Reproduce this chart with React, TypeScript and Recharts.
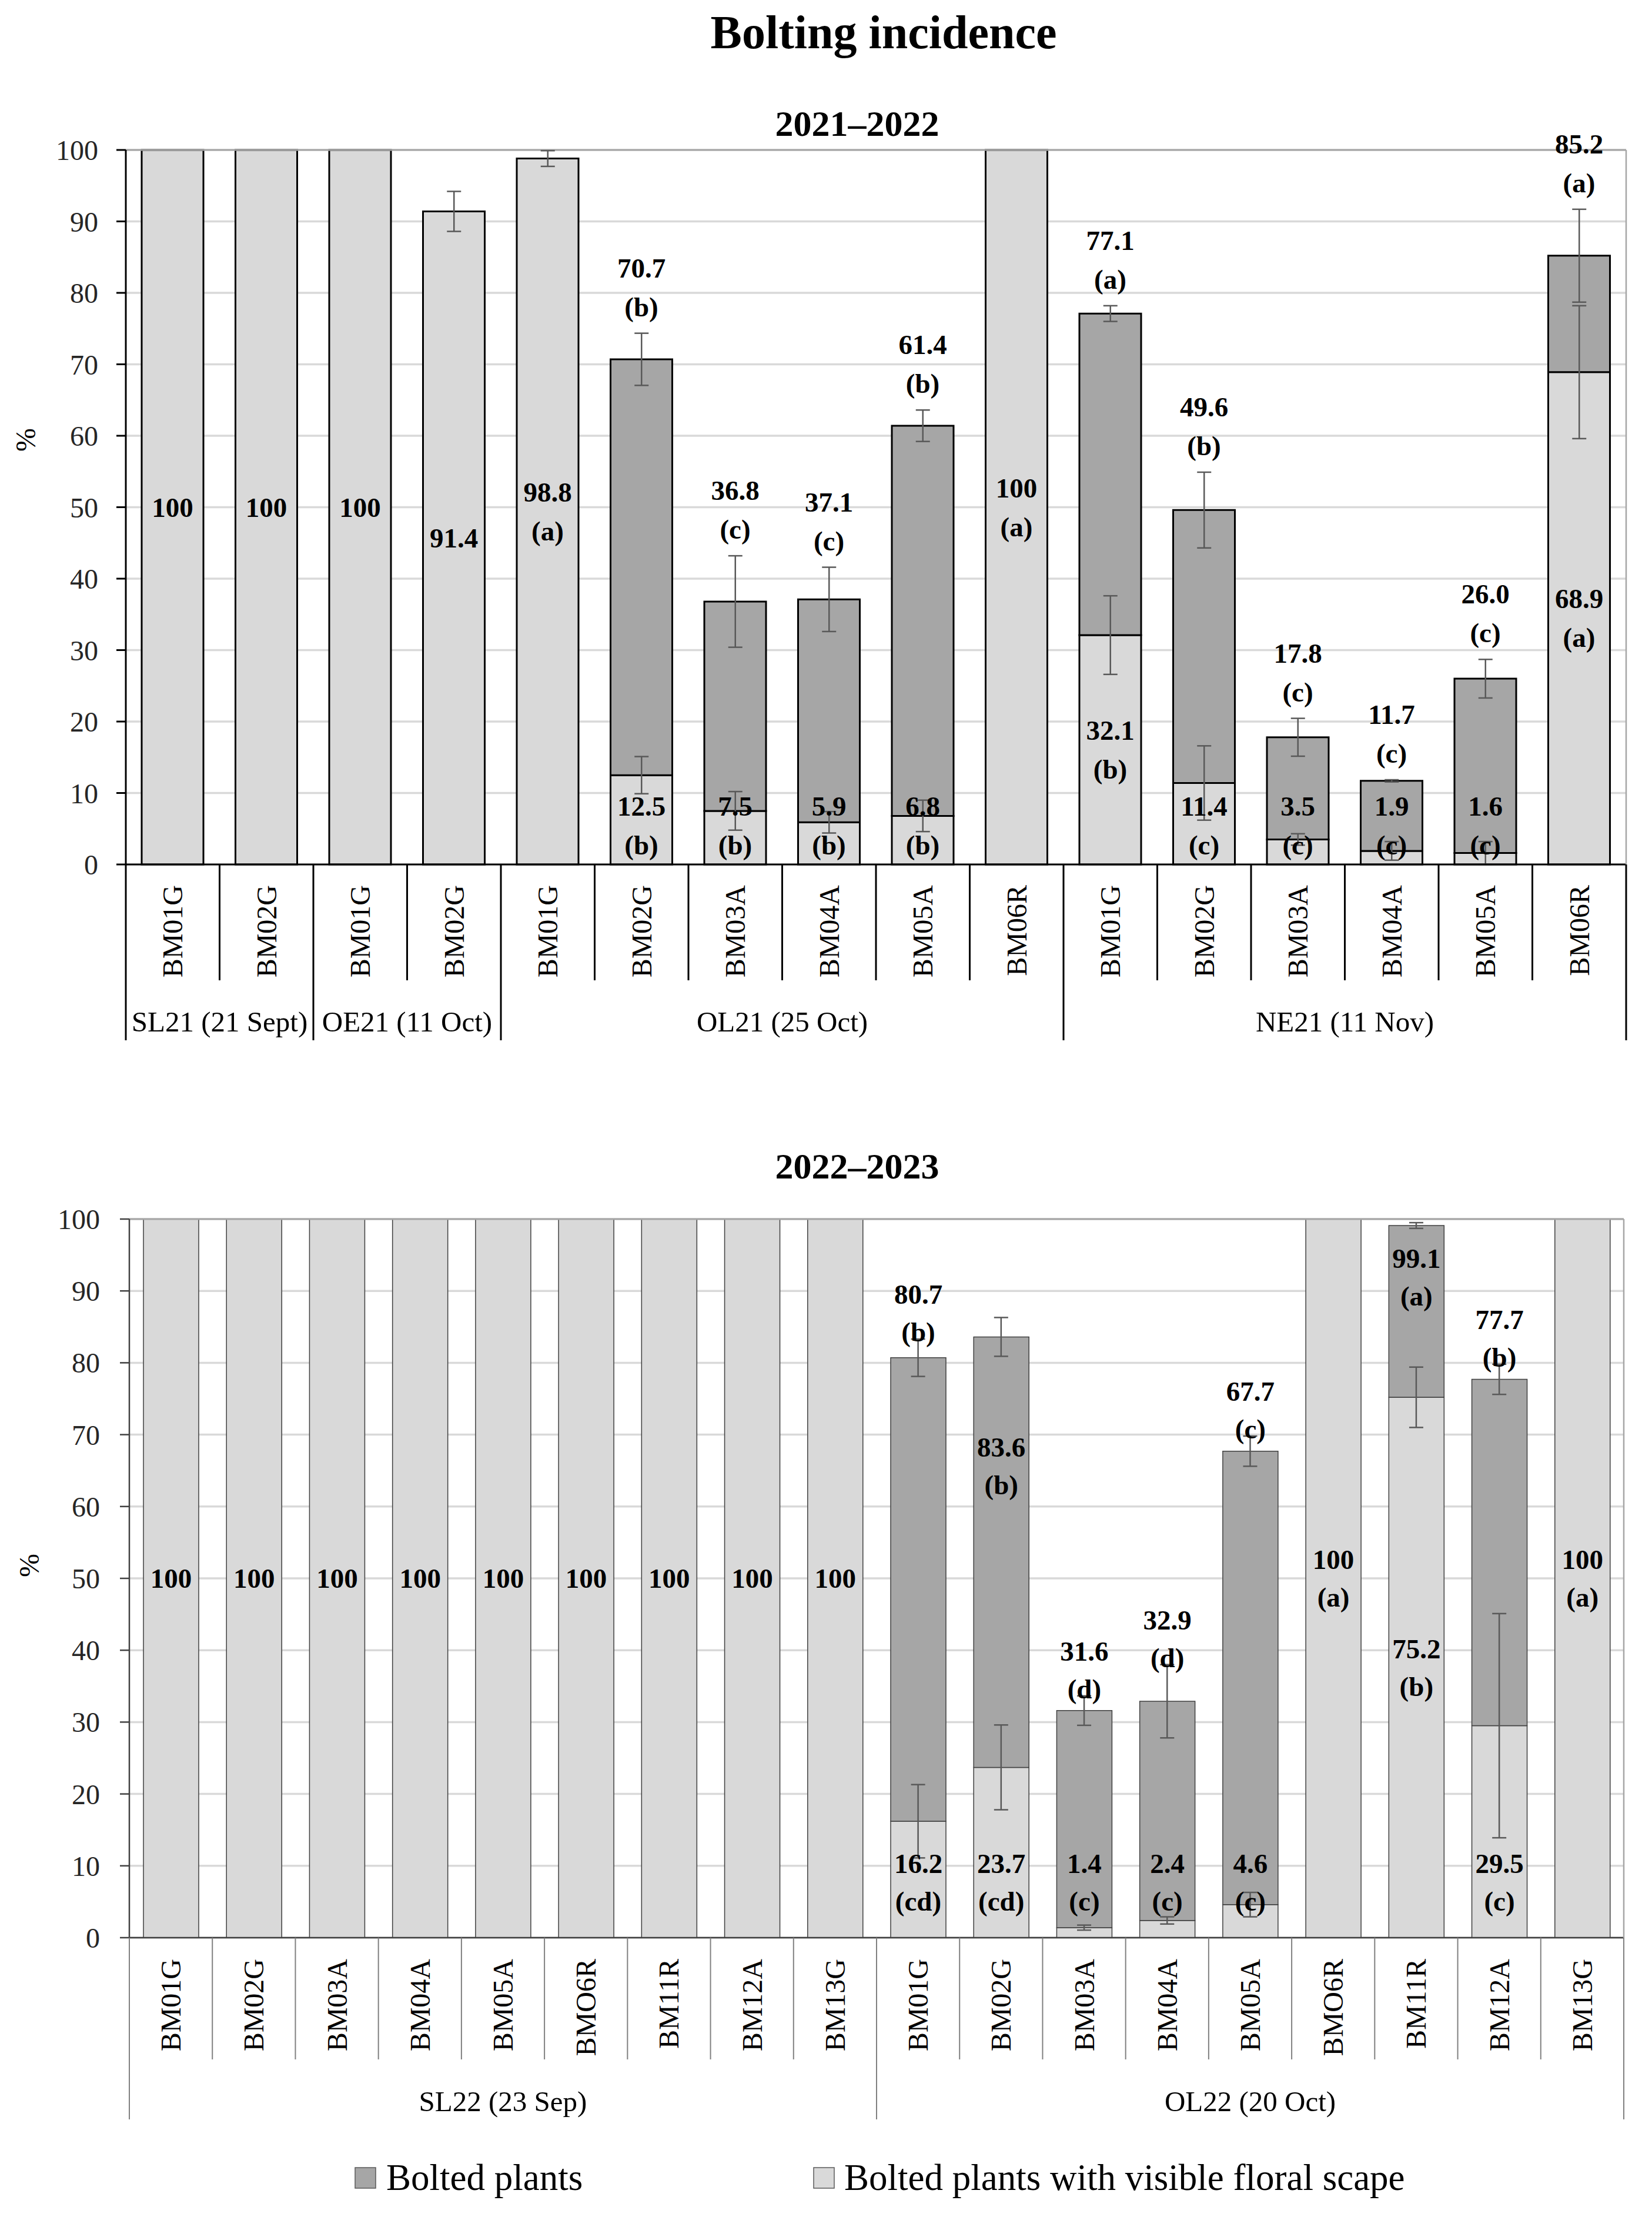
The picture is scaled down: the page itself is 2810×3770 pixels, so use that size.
import React from "react";
import {
  Bar,
  CartesianGrid,
  ComposedChart,
  ErrorBar,
  LabelList,
  ReferenceLine,
  Scatter,
  XAxis,
  YAxis,
} from "recharts";

const FONT = "'Liberation Serif', 'Times New Roman', serif";

// 2021–2022
const names21 = [
  "BM01G", "BM02G", "BM01G", "BM02G", "BM01G", "BM02G", "BM03A", "BM04A",
  "BM05A", "BM06R", "BM01G", "BM02G", "BM03A", "BM04A", "BM05A", "BM06R",
];
const groups21 = ["SL21 (21 Sept)", "OE21 (11 Oct)", "OL21 (25 Oct)", "NE21 (11 Nov)"];
const groupSizes21 = [2, 2, 6, 6];
const scape21 = [100, 100, 100, 91.4, 98.8, 12.5, 7.5, 5.9, 6.8, 100, 32.1, 11.4, 3.5, 1.9, 1.6, 68.9];
const total21 = [100, 100, 100, 91.4, 98.8, 70.7, 36.8, 37.1, 61.4, 100, 77.1, 49.6, 17.8, 11.7, 26.0, 85.2];
const scapeErr21 = [null, null, null, 2.8, 1.1, 2.6, 2.7, 1.5, 2.2, null, 5.5, 5.2, 0.8, 1.3, 1.6, 9.3];
const totalErr21 = [null, null, null, null, null, 3.65, 6.4, 4.5, 2.2, null, 1.1, 5.3, 2.65, 0.15, 2.7, 6.5];
const scapeLetters21 = ["", "", "", "", "a", "b", "b", "b", "b", "a", "b", "c", "c", "c", "c", "a"];
const totalLetters21 = ["", "", "", "", "", "b", "c", "c", "b", "", "a", "b", "c", "c", "c", "a"];

// 2022–2023
const names22 = [
  "BM01G", "BM02G", "BM03A", "BM04A", "BM05A", "BMO6R", "BM11R", "BM12A", "BM13G",
  "BM01G", "BM02G", "BM03A", "BM04A", "BM05A", "BMO6R", "BM11R", "BM12A", "BM13G",
];
const groups22 = ["SL22 (23 Sep)", "OL22 (20 Oct)"];
const groupSizes22 = [9, 9];
const scape22 = [100, 100, 100, 100, 100, 100, 100, 100, 100, 16.2, 23.7, 1.4, 2.4, 4.6, 100, 75.2, 29.5, 100];
const total22 = [100, 100, 100, 100, 100, 100, 100, 100, 100, 80.7, 83.6, 31.6, 32.9, 67.7, 100, 99.1, 77.7, 100];
const scapeErr22 = [null, null, null, null, null, null, null, null, null, 5.1, 5.9, 0.35, 0.5, 1.7, null, 4.2, 15.6, null];
const totalErr22 = [null, null, null, null, null, null, null, null, null, 2.6, 2.7, 2.05, 5.1, 2.1, null, 0.4, 2.1, null];
const scapeLetters22 = ["", "", "", "", "", "", "", "", "", "cd", "cd", "c", "c", "c", "a", "b", "c", "a"];
const totalLetters22 = ["", "", "", "", "", "", "", "", "", "b", "b", "d", "d", "c", "", "a", "b", ""];

const yTicks = [0, 10, 20, 30, 40, 50, 60, 70, 80, 90, 100];

const LIGHT = "#d9d9d9";
const DARK = "#a6a6a6";

function buildRows(
  names: string[],
  scape: number[],
  total: number[],
  scapeErr: (number | null)[],
  totalErr: (number | null)[],
  scapeLetters: string[],
  totalLetters: string[],
) {
  return names.map((name, i) => ({
    key: `c${i}`,
    name,
    scape: scape[i],
    dark: Math.round((total[i] - scape[i]) * 100) / 100,
    total: total[i],
    scapeErr: scapeErr[i],
    totalErr: totalErr[i],
    scapeLetter: scapeLetters[i],
    totalLetter: totalLetters[i],
  }));
}

const rows21 = buildRows(names21, scape21, total21, scapeErr21, totalErr21, scapeLetters21, totalLetters21);
const rows22 = buildRows(names22, scape22, total22, scapeErr22, totalErr22, scapeLetters22, totalLetters22);

const fmt = (v: number) => (v === 100 ? "100" : v.toFixed(1));

function box(props: any) {
  const vb = props.viewBox ?? props;
  let { x, y, width, height } = vb;
  if (height < 0) {
    y += height;
    height = -height;
  }
  return { x, y, width, height };
}

// the LabelList carries the row key, so a label always finds its own row
const rowOf = (rows: any[], props: any) => {
  const k = String(props.value ?? "");
  const i = k.startsWith("c") ? Number(k.slice(1)) : props.index;
  return rows[i];
};

function TwoLines({ cx, mid, num, letter, gap }: any) {
  const style = { fontFamily: FONT, fontSize: 47, fontWeight: 700, fill: "#000" };
  if (!letter)
    return (
      <text x={cx} y={mid} textAnchor="middle" dominantBaseline="central" style={style}>
        {num}
      </text>
    );
  return (
    <g>
      <text x={cx} y={mid - gap / 2} textAnchor="middle" dominantBaseline="central" style={style}>
        {num}
      </text>
      <text x={cx} y={mid + gap / 2} textAnchor="middle" dominantBaseline="central" style={style}>
        ({letter})
      </text>
    </g>
  );
}

function Panel({ rows, groups, sizes, cfg }: any) {
  const starts = sizes.map((_: number, g: number) =>
    sizes.slice(0, g).reduce((a: number, b: number) => a + b, 0),
  );
  const scapeErrRows = rows
    .filter((r: any) => r.scapeErr != null)
    .map((r: any) => ({ key: r.key, v: r.scape, e: r.scapeErr }));
  const totalErrRows = rows
    .filter((r: any) => r.totalErr != null)
    .map((r: any) => ({ key: r.key, v: r.total, e: r.totalErr }));

  const lightLabel = (props: any) => {
    const r = rowOf(rows, props);
    if (!r) return null;
    const { x, y, width, height } = box(props);
    const cx = x + width / 2;
    let mid;
    if (r.dark === 0 || r.scape >= cfg.centerMin) mid = y + height / 2;
    else mid = y + height - cfg.bottomLift;
    return <TwoLines cx={cx} mid={mid} num={fmt(r.scape)} letter={r.scapeLetter} gap={cfg.lineGap} />;
  };

  const darkLabel = (props: any) => {
    const r = rowOf(rows, props);
    if (!r || r.dark === 0) return null;
    const { x, y, width, height } = box(props);
    const cx = x + width / 2;
    const unit = height / r.dark;
    const err = r.totalErr ?? 0;
    let mid;
    if (r.total + err > cfg.insideAbove) mid = y + 0.3 * height;
    else mid = y - err * unit - cfg.aboveGap - cfg.lineGap / 2;
    return <TwoLines cx={cx} mid={mid} num={fmt(r.total)} letter={r.totalLetter} gap={cfg.lineGap} />;
  };

  const renderTick = (p: any) => {
    const i = p.payload?.index ?? p.index;
    const half = p.payload?.offset || cfg.band / 2;
    const { x, y } = p;
    const r = rows[i];
    if (!r) return null;
    const g = starts.indexOf(i);
    const left = x - half;
    const sep = { stroke: cfg.sepStroke, strokeWidth: cfg.sepWidth };
    const ly = y + cfg.catLabelDy;
    return (
      <g>
        <line x1={left} x2={left} y1={y} y2={y + (g >= 0 ? cfg.groupDepth : cfg.catDepth)} {...sep} />
        {i === rows.length - 1 && (
          <line x1={x + half} x2={x + half} y1={y} y2={y + cfg.groupDepth} {...sep} />
        )}
        <text
          x={x}
          y={ly}
          transform={`rotate(-90 ${x} ${ly})`}
          textAnchor="end"
          dominantBaseline="central"
          style={{ fontFamily: FONT, fontSize: 48, fill: "#000" }}
        >
          {r.name}
        </text>
        {g >= 0 && (
          <text
            x={left + sizes[g] * half}
            y={y + cfg.groupLabelDy}
            textAnchor="middle"
            dominantBaseline="central"
            style={{ fontFamily: FONT, fontSize: 49, fill: "#000" }}
          >
            {groups[g]}
          </text>
        )}
      </g>
    );
  };

  return (
    <ComposedChart width={cfg.width} height={cfg.height} data={rows} margin={cfg.margin}>
      <CartesianGrid vertical={false} stroke="#d9d9d9" strokeWidth={3.5} />
      <XAxis
        dataKey="key"
        type="category"
        allowDuplicatedCategory={false}
        interval={0}
        height={320}
        tickSize={0}
        tickMargin={0}
        tickLine={false}
        axisLine={{ stroke: cfg.axisStroke, strokeWidth: cfg.axisWidth }}
        tick={renderTick}
      />
      <YAxis
        domain={[0, 100]}
        ticks={yTicks}
        interval={0}
        width={120}
        tickSize={16}
        tickMargin={cfg.tickMargin}
        axisLine={{ stroke: cfg.axisStroke, strokeWidth: cfg.axisWidth }}
        tickLine={{ stroke: cfg.axisStroke, strokeWidth: cfg.axisWidth }}
        tick={{ fontFamily: FONT, fontSize: 48, fill: "#262626" }}
      />
      <YAxis
        yAxisId="r"
        orientation="right"
        domain={[0, 100]}
        width={2}
        tick={false}
        tickLine={false}
        axisLine={{ stroke: "#a6a6a6", strokeWidth: 2.5 }}
      />
      <ReferenceLine y={100} stroke="#a6a6a6" strokeWidth={3} />
      <Bar
        dataKey="scape"
        stackId="s"
        fill={LIGHT}
        stroke={cfg.barStroke}
        strokeWidth={cfg.barStrokeWidth}
        barSize={cfg.barSize}
        isAnimationActive={false}
      >
        <LabelList dataKey="key" content={lightLabel} />
      </Bar>
      <Bar
        dataKey="dark"
        stackId="s"
        fill={DARK}
        stroke={cfg.barStroke}
        strokeWidth={cfg.barStrokeWidth}
        barSize={cfg.barSize}
        isAnimationActive={false}
      >
        <LabelList dataKey="key" content={darkLabel} />
      </Bar>
      <Scatter data={scapeErrRows} dataKey="v" shape={() => <g />} isAnimationActive={false}>
        <ErrorBar dataKey="e" direction="y" width={12} stroke="#595959" strokeWidth={2.5} />
      </Scatter>
      <Scatter data={totalErrRows} dataKey="v" shape={() => <g />} isAnimationActive={false}>
        <ErrorBar dataKey="e" direction="y" width={12} stroke="#595959" strokeWidth={2.5} />
      </Scatter>
    </ComposedChart>
  );
}

const cfg21 = {
  width: 2810,
  height: 1800,
  margin: { top: 255, right: 42, bottom: 10, left: 94 },
  barSize: 105,
  barStroke: "#000",
  barStrokeWidth: 3,
  axisStroke: "#000",
  axisWidth: 3,
  sepStroke: "#000",
  sepWidth: 3,
  catDepth: 197,
  groupDepth: 299,
  catLabelDy: 35,
  groupLabelDy: 267,
  tickMargin: 31,
  centerMin: 20,
  bottomLift: 66,
  aboveGap: 45,
  insideAbove: 1000,
  lineGap: 66,
  band: 159.5,
};

const cfg22 = {
  width: 2810,
  height: 1830,
  margin: { top: 273, right: 46, bottom: 15, left: 100 },
  barSize: 94,
  barStroke: "#404040",
  barStrokeWidth: 1.5,
  axisStroke: "#404040",
  axisWidth: 2.5,
  sepStroke: "#808080",
  sepWidth: 2,
  catDepth: 207,
  groupDepth: 309,
  catLabelDy: 36,
  groupLabelDy: 278,
  tickMargin: 34,
  centerMin: 50,
  bottomLift: 94,
  aboveGap: 12,
  insideAbove: 85,
  lineGap: 64,
  band: 141.2,
};

export default function App() {
  const txt = { fontFamily: FONT, fill: "#000" };
  return (
    <div style={{ position: "absolute", left: 0, top: 0, width: 2810, height: 3770, background: "#fff" }}>
      <div style={{ position: "absolute", left: 0, top: 0 }}>
        <Panel rows={rows21} groups={groups21} sizes={groupSizes21} cfg={cfg21} />
      </div>
      <div style={{ position: "absolute", left: 0, top: 1800 }}>
        <Panel rows={rows22} groups={groups22} sizes={groupSizes22} cfg={cfg22} />
      </div>
      <svg
        width={2810}
        height={3770}
        style={{ position: "absolute", left: 0, top: 0, pointerEvents: "none" }}
      >
        <text x={1503} y={55} textAnchor="middle" dominantBaseline="central" style={{ ...txt, fontSize: 80, fontWeight: 700 }}>
          Bolting incidence
        </text>
        <text x={1458} y={210} textAnchor="middle" dominantBaseline="central" style={{ ...txt, fontSize: 62, fontWeight: 700 }}>
          2021–2022
        </text>
        <text x={1458} y={1983} textAnchor="middle" dominantBaseline="central" style={{ ...txt, fontSize: 62, fontWeight: 700 }}>
          2022–2023
        </text>
        <text x={43} y={748} transform="rotate(-90 43 748)" textAnchor="middle" dominantBaseline="central" style={{ ...txt, fontSize: 48 }}>
          %
        </text>
        <text x={49} y={2662} transform="rotate(-90 49 2662)" textAnchor="middle" dominantBaseline="central" style={{ ...txt, fontSize: 48 }}>
          %
        </text>
        <rect x={604} y={3686} width={35} height={35} fill={DARK} stroke="#595959" strokeWidth={1.5} />
        <text x={657} y={3703} dominantBaseline="central" style={{ ...txt, fontSize: 63 }}>
          Bolted plants
        </text>
        <rect x={1384} y={3686} width={35} height={35} fill={LIGHT} stroke="#595959" strokeWidth={1.5} />
        <text x={1436} y={3703} dominantBaseline="central" style={{ ...txt, fontSize: 63 }}>
          Bolted plants with visible floral scape
        </text>
      </svg>
    </div>
  );
}
